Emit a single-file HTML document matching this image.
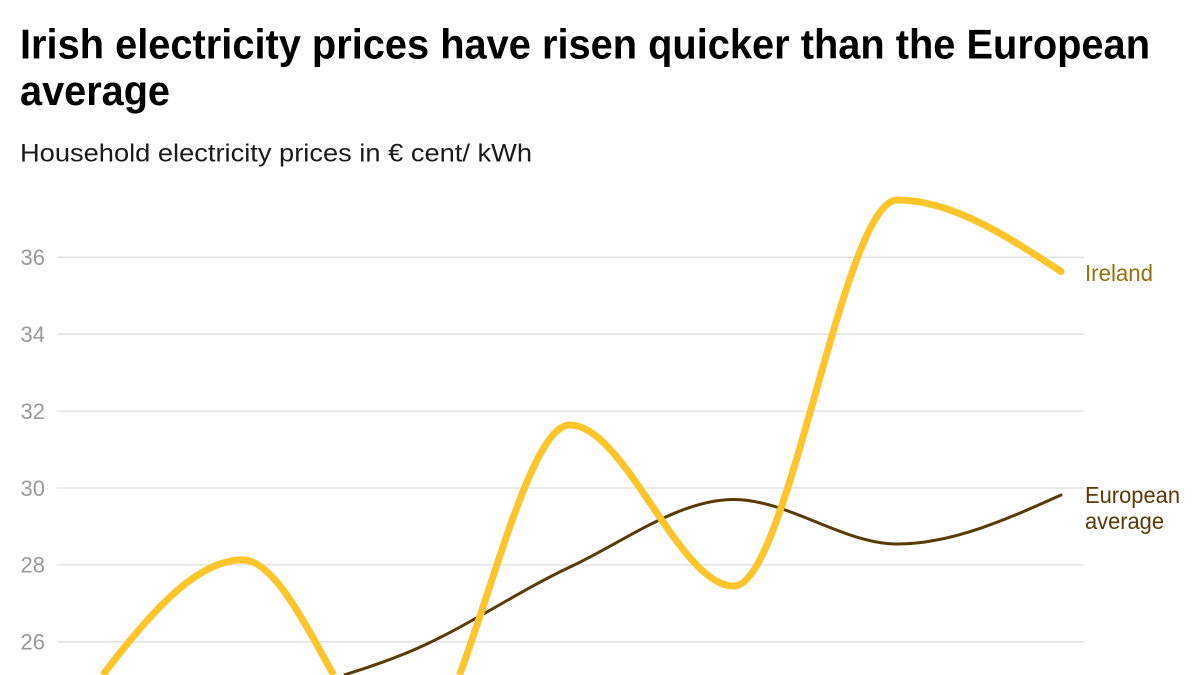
<!DOCTYPE html>
<html>
<head>
<meta charset="utf-8">
<style>
  html, body { margin: 0; padding: 0; background: #ffffff; }
  body { width: 1200px; height: 675px; overflow: hidden; }
  svg { display: block; overflow: hidden; }
  text { font-family: "Liberation Sans", "DejaVu Sans", sans-serif; }
</style>
</head>
<body>
<svg width="1200" height="675" viewBox="0 0 1200 675" xmlns="http://www.w3.org/2000/svg">
  <rect x="0" y="0" width="1200" height="675" fill="#ffffff"/>

  <!-- Title -->
  <text x="20" y="58.5" font-size="42" font-weight="bold" fill="#000000" textLength="1130" lengthAdjust="spacingAndGlyphs">Irish electricity prices have risen quicker than the European</text>
  <text x="20" y="105" font-size="42" font-weight="bold" fill="#000000" textLength="150" lengthAdjust="spacingAndGlyphs">average</text>

  <!-- Subtitle -->
  <text x="20" y="161.5" font-size="25" fill="#1a1a1a" textLength="512" lengthAdjust="spacingAndGlyphs">Household electricity prices in € cent/ kWh</text>

  <!-- Gridlines -->
  <g stroke="#dedede" stroke-width="1.3">
    <line x1="57" y1="257.3" x2="1084" y2="257.3"/>
    <line x1="57" y1="334.2" x2="1084" y2="334.2"/>
    <line x1="57" y1="411.1" x2="1084" y2="411.1"/>
    <line x1="57" y1="488" x2="1084" y2="488"/>
    <line x1="57" y1="564.9" x2="1084" y2="564.9"/>
    <line x1="57" y1="641.8" x2="1084" y2="641.8"/>
  </g>

  <!-- Y labels -->
  <g font-size="22" fill="#9a9a9a" text-anchor="end">
    <text x="45" y="265.1">36</text>
    <text x="45" y="342">34</text>
    <text x="45" y="418.9">32</text>
    <text x="45" y="495.8">30</text>
    <text x="45" y="572.7">28</text>
    <text x="45" y="649.6">26</text>
  </g>

  <!-- European average line -->
  <path d="M343.86,675 C364.7,668.72 385.54,661.48 406.4,653 C461,630.9 515.5,592.5 570,567 C624.6,541.4 679.1,499.5 733.7,499.5 C788.3,499.5 842.8,544 897.4,544 C951.9,544 1006.5,519.5 1061,495"
        fill="none" stroke="#5a3a06" stroke-width="3" stroke-linecap="butt" stroke-linejoin="round"/>
  <circle cx="1061" cy="495" r="1.5" fill="#5a3a06"/>

  <!-- Ireland line -->
  <path d="M102.9,675 C149.52,613.57 196.07,559.9 242.7,559.9 C273.05,559.9 303.36,620.85 333.68,675"
        fill="none" stroke="#fbc52b" stroke-width="7" stroke-linecap="butt" stroke-linejoin="round"/>
  <path d="M459.49,675 C496.34,576.67 533.17,425 570,425 C624.6,425 679.1,586.1 733.7,586.1 C788.3,586.1 842.8,200 897.4,200 C951.9,200 1006.5,235.8 1061,271.5"
        fill="none" stroke="#fbc52b" stroke-width="7" stroke-linecap="butt" stroke-linejoin="round"/>
  <circle cx="1061" cy="271.5" r="3.5" fill="#fbc52b"/>

  <!-- Series labels -->
  <text x="1085" y="281" font-size="23" fill="#93700f" textLength="68" lengthAdjust="spacingAndGlyphs">Ireland</text>
  <text x="1085" y="503" font-size="23" fill="#5a3a06" textLength="95" lengthAdjust="spacingAndGlyphs">European</text>
  <text x="1085" y="529" font-size="23" fill="#5a3a06" textLength="79" lengthAdjust="spacingAndGlyphs">average</text>
</svg>
</body>
</html>
